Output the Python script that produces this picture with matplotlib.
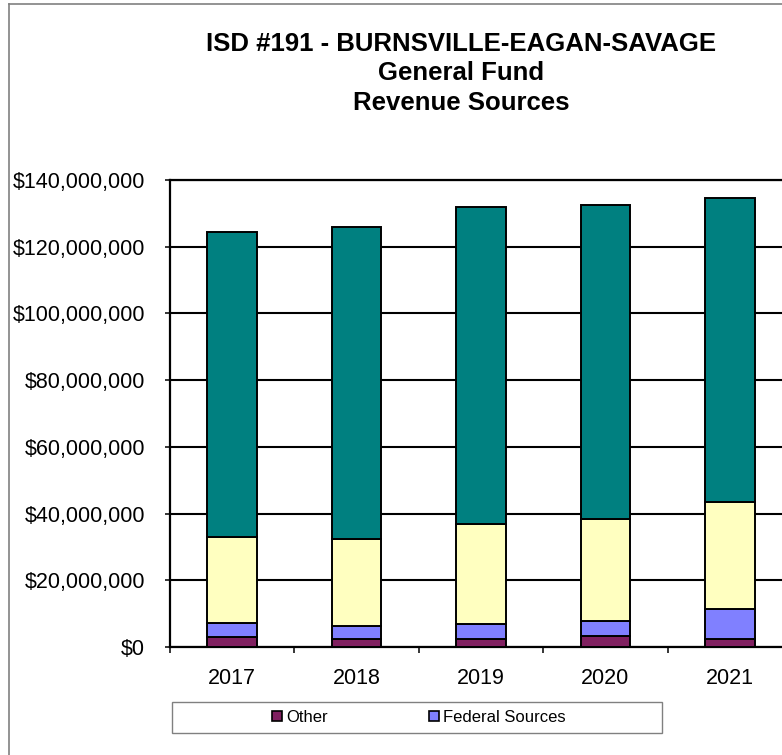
import matplotlib
matplotlib.use("Agg")
import matplotlib.pyplot as plt
from matplotlib.patches import Rectangle, Patch
from matplotlib.lines import Line2D
from matplotlib.ticker import FuncFormatter, FixedLocator
import numpy as np

plt.rcParams['font.family'] = ['Liberation Sans', 'DejaVu Sans']

years = ["2017", "2018", "2019", "2020", "2021"]
other = [2.9e6, 2.3e6, 2.5e6, 3.3e6, 2.5e6]
federal = [4.4e6, 4.0e6, 4.3e6, 4.5e6, 8.9e6]
state = [25.7e6, 26.2e6, 30.2e6, 30.5e6, 32.1e6]
local = [91.3e6, 93.4e6, 94.8e6, 94.1e6, 91.2e6]
series_names = ["Other", "Federal Sources", "State Sources", "Local Sources"]
colors = ["#802060", "#8080FF", "#FFFFC0", "#008080"]
title_lines = ["ISD #191 - BURNSVILLE-EAGAN-SAVAGE", "General Fund", "Revenue Sources"]

W, H = 782, 755
fig = plt.figure(figsize=(W / 100, H / 100), dpi=100)

def fx(px):
    return px / W

def fy(py):
    return 1 - py / H

# figure border (left/top visible)
fig.add_artist(Line2D([fx(8.5), fx(8.5)], [fy(4), fy(760)], color="#808080", lw=1.2))
fig.add_artist(Line2D([fx(8.5), fx(790)], [fy(4), fy(4)], color="#808080", lw=1.2))

ax = fig.add_axes([fx(170), fy(647), fx(792) - fx(170), fy(180) - fy(647)])

x = np.arange(len(years))
bottom = np.zeros(len(years))
for vals, c, name in zip([other, federal, state, local], colors, series_names):
    ax.bar(x, vals, width=0.4, bottom=bottom, color=c, edgecolor="black",
           linewidth=1.4, label=name, zorder=3)
    bottom += np.array(vals)

ax.set_xlim(-0.5, len(years) - 0.5)
ax.set_ylim(0, 140e6)
ax.set_yticks(np.arange(0, 140e6 + 1, 20e6))
ax.yaxis.set_major_formatter(FuncFormatter(lambda v, p: "${:,.0f}".format(v)))
ax.yaxis.grid(True, color="black", linewidth=1.5, zorder=1)
ax.set_axisbelow(True)

ax.set_xticks(x)
ax.set_xticklabels(years)
ax.xaxis.set_minor_locator(FixedLocator(np.arange(-0.5, len(years), 1.0)))
ax.tick_params(axis="x", which="major", length=0, pad=15, labelsize=15.5)
ax.tick_params(axis="x", which="minor", length=4.5, width=1.1, direction="out")
ax.tick_params(axis="y", which="major", length=3.6, width=1.1, direction="out",
               pad=14.4, labelsize=15.5)

for s in ["left", "bottom", "top"]:
    ax.spines[s].set_linewidth(1.6)
    ax.spines[s].set_color("black")
ax.spines["right"].set_visible(False)

# title
for line, by in zip(title_lines, [51, 80, 109.5]):
    fig.text(fx(461), fy(by), line, ha="center", va="baseline",
             fontsize=18.5, fontweight="bold")

# legend frame
fig.add_artist(Rectangle((fx(171.7), fy(733.3)), fx(661.7) - fx(171.7), fy(701.7) - fy(733.3),
                         facecolor="white", edgecolor="#808080", lw=1.0))
handles = [Patch(facecolor=colors[0], edgecolor="black", linewidth=1.2),
           Patch(facecolor=colors[1], edgecolor="black", linewidth=1.2)]
fig.legend(handles, series_names[:2], loc="center", bbox_to_anchor=(fx(419), fy(717.5)),
           ncol=2, frameon=False, fontsize=12, handlelength=0.6, handleheight=0.6,
           handletextpad=0.25, columnspacing=6.1, borderpad=0, borderaxespad=0)

fig.savefig("out.png", dpi=100)
